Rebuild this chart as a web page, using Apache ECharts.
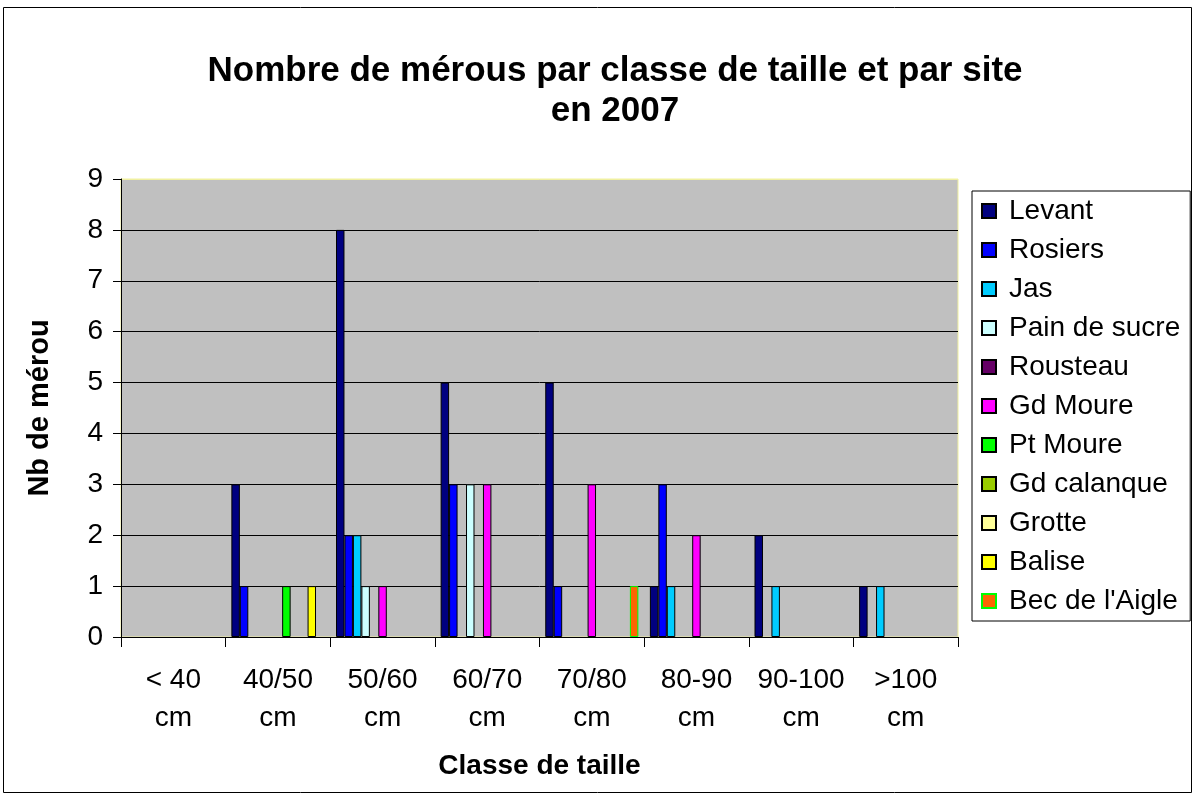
<!DOCTYPE html>
<html>
<head>
	<meta charset="utf-8">
	<title>Mérous 2007</title>
	<script type="text/javascript" src="https://cdn.jsdelivr.net/npm/echarts@6/dist/echarts.min.js"></script>
	<style>
		html, body { margin: 0; padding: 0; background: #fff; }
	</style>
</head>
<body>
	<div id="main" style="width: 1196px; height: 801px;"></div>
	<script type="text/javascript">
// classes de taille
var categories = ['< 40\ncm', '40/50\ncm', '50/60\ncm', '60/70\ncm', '70/80\ncm', '80-90\ncm', '90-100\ncm', '>100\ncm'];
var yTicks = [0, 1, 2, 3, 4, 5, 6, 7, 8, 9];

// nombre de mérous par site
var levant      = [0, 3, 8, 5, 5, 1, 2, 1];
var rosiers     = [0, 1, 2, 3, 1, 3, 0, 0];
var jas         = [0, 0, 2, 0, 0, 1, 1, 1];
var painDeSucre = [0, 0, 1, 3, 0, 0, 0, 0];
var rousteau    = [0, 0, 0, 0, 0, 0, 0, 0];
var gdMoure     = [0, 0, 1, 3, 3, 2, 0, 0];
var ptMoure     = [0, 1, 0, 0, 0, 0, 0, 0];
var gdCalanque  = [0, 0, 0, 0, 0, 0, 0, 0];
var grotte      = [0, 0, 0, 0, 0, 0, 0, 0];
var balise      = [0, 1, 0, 0, 0, 0, 0, 0];
var becAigle    = [0, 0, 0, 0, 1, 0, 0, 0];

var sites = [
    {name: 'Levant', data: levant, color: '#000080', border: '#000000'},
    {name: 'Rosiers', data: rosiers, color: '#0000ff', border: '#000000'},
    {name: 'Jas', data: jas, color: '#00ccff', border: '#000000'},
    {name: 'Pain de sucre', data: painDeSucre, color: '#ccffff', border: '#000000'},
    {name: 'Rousteau', data: rousteau, color: '#660066', border: '#000000'},
    {name: 'Gd Moure', data: gdMoure, color: '#ff00ff', border: '#000000'},
    {name: 'Pt Moure', data: ptMoure, color: '#00ff00', border: '#000000'},
    {name: 'Gd calanque', data: gdCalanque, color: '#99cc00', border: '#000000'},
    {name: 'Grotte', data: grotte, color: '#ffff99', border: '#000000'},
    {name: 'Balise', data: balise, color: '#ffff00', border: '#000000'},
    {name: "Bec de l'Aigle", data: becAigle, color: '#ff6600', border: '#00ff00'}
];

var font = 'Liberation Sans, Arial, sans-serif';

var series = sites.map(function (s) {
    return {
        name: s.name,
        type: 'bar',
        barGap: '0%',
        barCategoryGap: '11%',
        data: s.data.map(function (v) { return v === 0 ? null : v; }),
        itemStyle: {
            color: s.color,
            borderColor: s.border,
            borderWidth: 1
        },
        emphasis: {disabled: true}
    };
});

// dernière ligne (9) en jaune pâle comme le bord du tracé
var splitColors = yTicks.map(function (t) { return t === 9 ? '#f0f0a0' : '#000000'; });

var option = {
    backgroundColor: '#ffffff',
    animation: false,
    title: {
        text: 'Nombre de mérous par classe de taille et par site\nen 2007',
        left: 610,
        top: 46,
        textAlign: 'center',
        textStyle: {
            fontFamily: font,
            fontSize: 35,
            fontWeight: 'bold',
            lineHeight: 40,
            color: '#000'
        }
    },
    legend: {
        orient: 'vertical',
        left: 972,
        top: 191,
        padding: [6, 10, 6, 9],
        itemGap: 11,
        itemWidth: 14,
        itemHeight: 14,
        icon: 'rect',
        borderColor: '#000',
        borderWidth: 1,
        textStyle: {
            fontFamily: font,
            fontSize: 28,
            lineHeight: 28,
            padding: [0, 0, 0, 8],
            color: '#000'
        },
        data: sites.map(function (s) { return s.name; })
    },
    grid: {
        left: 121,
        right: 238,
        top: 179,
        bottom: 164,
        show: true,
        backgroundColor: '#c0c0c0',
        borderColor: '#f0f0a0',
        borderWidth: 1
    },
    xAxis: {
        type: 'category',
        data: categories,
        name: 'Classe de taille',
        nameLocation: 'middle',
        nameGap: 115,
        nameTextStyle: {
            fontFamily: font,
            fontSize: 28,
            fontWeight: 'bold',
            color: '#000'
        },
        axisLine: {lineStyle: {color: '#000', width: 1}},
        axisTick: {show: true, length: 10, lineStyle: {color: '#000'}},
        axisLabel: {
            margin: 24,
            fontFamily: font,
            fontSize: 28,
            lineHeight: 38,
            color: '#000',
            interval: 0
        }
    },
    yAxis: {
        type: 'value',
        min: 0,
        max: 9,
        interval: 1,
        name: 'Nb de mérou',
        nameLocation: 'middle',
        nameGap: 67,
        nameTextStyle: {
            fontFamily: font,
            fontSize: 29,
            fontWeight: 'bold',
            color: '#000'
        },
        axisLine: {show: true, lineStyle: {color: '#000', width: 1}},
        axisTick: {show: true, length: 8, lineStyle: {color: '#000'}},
        axisLabel: {
            margin: 18,
            fontFamily: font,
            fontSize: 28,
            color: '#000'
        },
        splitLine: {show: true, lineStyle: {color: splitColors, width: 1}}
    },
    graphic: [{
        type: 'rect',
        shape: {x: 3.5, y: 7.5, width: 1188, height: 785},
        style: {fill: null, stroke: '#000', lineWidth: 1},
        silent: true,
        z: -1
    }],
    series: series
};

var myChart = echarts.init(document.getElementById('main'));
myChart.setOption(option);
	</script>
</body>
</html>
